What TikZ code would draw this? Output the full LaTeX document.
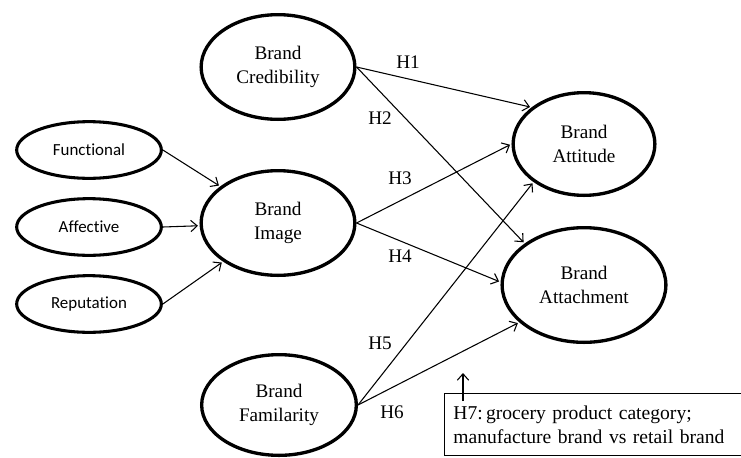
\documentclass[tikz,border=0pt]{standalone}
\usepackage{fontspec}
\setmainfont{Liberation Serif}
\newfontfamily\carlito[Ligatures=NoCommon]{Carlito}
\usepackage{tikz}
\usetikzlibrary{shapes.geometric}
\usetikzlibrary{arrows.meta}
\tikzstyle{construct} = [draw, ellipse, line width=2.5pt, inner sep=0pt, align=center, font=\fontsize{14.4}{18}\selectfont]
\tikzstyle{facet} = [draw, ellipse, line width=2.3pt, inner sep=0pt, minimum width=108.5pt, minimum height=42.5pt, font=\carlito\fontsize{12.7}{14}\selectfont]
\tikzstyle{link} = [line width=0.8pt, shorten >=1.2pt, -{Straight Barb[length=4.8pt,width=8.5pt]}]
\tikzstyle{hyp} = [inner sep=0pt, font=\fontsize{14.4}{16}\selectfont]
\tikzstyle{coord} = [coordinate]

\begin{document}
\begin{tikzpicture}[x=0.75pt, y=-0.75pt]
	\useasboundingbox (0,0) rectangle (741,457);
	\node [construct, minimum width=115.3pt, minimum height=78.5pt] (credibility) at (278,67)
		{Brand\\Credibility};
	\node [construct, minimum width=115.3pt, minimum height=78.5pt] (brandimage) at (278,223)
		{Brand\\Image};
	\node [construct, minimum width=116pt, minimum height=75.5pt] (familiarity) at (279,405)
		{Brand\\Familarity};
	\node [facet] (functional) at (89,150) {Functional};
	\node [facet] (affective) at (89,227) {Affective};
	\node [facet] (reputation) at (89,304) {Reputation};
	\node [construct, minimum width=106.3pt, minimum height=77pt] (attitude) at (584,144)
		{Brand\\Attitude};
	\node [construct, minimum width=122.8pt, minimum height=86pt] (attachment) at (584,285)
		{Brand\\Attachment};
	\node [draw, line width=0.8pt, anchor=north west, inner xsep=7pt, text width=213pt,
		minimum height=47pt, align=left, font=\fontsize{14.7}{18}\selectfont] (moderator) at (443.5,392.5)
		{H7:\,grocery product category;\\manufacture brand vs retail brand};
	\node [coord] (modtail) at (463,401) {};
	\node [coord] (modhead) at (463,373) {};

	\node [hyp] (h1) at (408,62) {H1};
	\node [hyp] (h2) at (380,118) {H2};
	\node [hyp] (h3) at (400,178) {H3};
	\node [hyp] (h4) at (400,256) {H4};
	\node [hyp] (h5) at (380,343) {H5};
	\node [hyp] (h6) at (392,412) {H6};

	\draw [link] (functional.east) -- (brandimage);
	\draw [link] (affective.east) -- (brandimage);
	\draw [link] (reputation.east) -- (brandimage);
	\draw [link] (credibility.east) -- (attitude.145);
	\draw [link] (credibility.east) -- (attachment.145);
	\draw [link] (brandimage.east) -- (attitude.180);
	\draw [link] (brandimage.east) -- (attachment.178);
	\draw [link] (familiarity.east) -- (attitude.217);
	\draw [link] (familiarity.east) -- (attachment.210);
	\draw [link, shorten >=0pt] (modtail) -- (modhead);
\end{tikzpicture}
\end{document}
